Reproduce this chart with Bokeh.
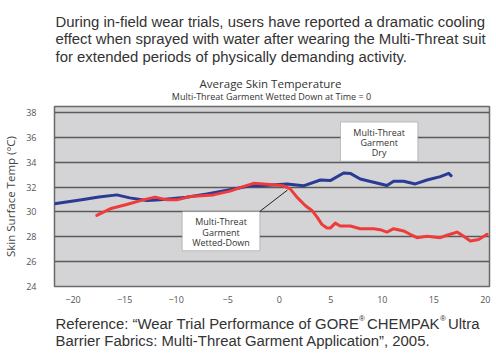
from bokeh.plotting import figure
from bokeh.layouts import column
from bokeh.models import Range1d, Label, BoxAnnotation, FixedTicker, ColumnDataSource
from bokeh.embed import file_html
from bokeh.resources import INLINE

# ---- data ----
dry_t = [-21.8, -19.0, -17.5, -15.75, -14.5, -12.85, -11.55, -9.0, -7.0, -4.4, -2.8, -1.85,
         0.75, 2.35, 4.0, 4.95, 6.25, 6.9, 7.86, 9.16, 10.45, 11.1, 12.07, 13.2, 14.34,
         15.63, 16.44, 16.67]
dry_temp = [30.65, 31.0, 31.2, 31.37, 31.13, 30.92, 30.97, 31.18, 31.45, 31.85, 32.1, 32.1,
            32.25, 32.1, 32.57, 32.52, 33.13, 33.1, 32.65, 32.38, 32.12, 32.47, 32.47, 32.25,
            32.57, 32.84, 33.1, 32.92]

wet_t = [-17.7, -16.4, -14.8, -13.2, -12.04, -10.9, -9.93, -8.64, -6.4, -4.76, -3.8, -2.5,
         -0.87, 0.42, 1.07, 1.72, 2.52, 3.17, 3.66, 4.14, 4.63, 4.95, 5.44, 5.92, 6.9, 7.86,
         9.16, 9.8, 10.45, 11.1, 12.07, 12.7, 13.37, 14.34, 15.63, 16.28, 17.25, 17.9, 18.54,
         19.35, 20.17]
wet_temp = [29.72, 30.25, 30.6, 30.97, 31.19, 30.97, 30.97, 31.24, 31.37, 31.67, 31.95, 32.3,
            32.2, 32.1, 31.85, 31.19, 30.52, 30.12, 29.6, 29.0, 28.7, 28.7, 29.1, 28.87, 28.87,
            28.65, 28.65, 28.57, 28.38, 28.65, 28.47, 28.2, 27.93, 28.04, 27.93, 28.12, 28.38,
            28.04, 27.66, 27.78, 28.2]

y_ticks = [24, 26, 28, 30, 32, 34, 36, 38]
x_ticks = [-20, -15, -10, -5, 0, 5, 10, 15, 20]

title_text = "Average Skin Temperature"
subtitle_text = "Multi-Threat Garment Wetted Down at Time = 0"
y_label = "Skin Surface Temp (\u00b0C)"
intro_lines = [
    "During in-field wear trials, users have reported a dramatic cooling",
    "effect when sprayed with water after wearing the Multi-Threat suit",
    "for extended periods of physically demanding activity.",
]
ref_line1_parts = ["Reference: \u201cWear Trial Performance of GORE", "\u00ae", " CHEMPAK",
                   "\u00ae", " Ultra"]
ref_line2 = "Barrier Fabrics: Multi-Threat Garment Application\u201d, 2005."
wet_box_lines = ["Multi-Threat", "Garment", "Wetted-Down"]
dry_box_lines = ["Multi-Threat", "Garment", "Dry"]

# ---- layout (page pixels) ----
W = 496
TOP_H = 104
MAIN_H = 201
BOT_H = 359 - TOP_H - MAIN_H
FL, FT, FR, FB = 54, 106, 489, 287
X0, X1 = -21.8, 20.4
Y0, Y1 = 24.0, 38.48
TXT = "#333333"


def dx(px):
    return X0 + (px - FL) * (X1 - X0) / (FR - FL)


def dy(py):
    return Y0 + (FB - py) * (Y1 - Y0) / (FB - FT)


def text_fig(h):
    # the column aligns this frame with the chart frame, so x data == page px
    f = figure(width=W, height=h, output_backend="svg", toolbar_location=None,
               x_range=Range1d(FL, FR), y_range=Range1d(h, 0),
               x_axis_location=None, y_axis_location=None,
               min_border_left=FL, min_border_right=W - FR,
               min_border_top=0, min_border_bottom=0)
    f.grid.visible = False
    f.outline_line_color = None
    f.background_fill_color = "white"
    f.border_fill_color = "white"
    return f


# ---- top text ----
top = text_fig(TOP_H)
for s, yy in zip(intro_lines, [21, 38.7, 56.3]):
    top.add_layout(Label(x=55, y=yy, text=s, text_align="left", text_baseline="alphabetic",
                         text_font="Liberation Sans", text_font_size="14.9px", text_color=TXT))
top.add_layout(Label(x=270, y=82.7, text=title_text, text_align="center",
                     text_baseline="alphabetic", text_font="Open Sans",
                     text_font_size="11.5px", text_color=TXT))
top.add_layout(Label(x=271, y=96.3, text=subtitle_text, text_align="center",
                     text_baseline="alphabetic", text_font="Open Sans",
                     text_font_size="9px", text_color=TXT))

# ---- main chart ----
p = figure(width=W, height=MAIN_H, output_backend="svg", toolbar_location=None,
           x_range=Range1d(X0, X1), y_range=Range1d(Y0, Y1),
           min_border_left=FL, min_border_top=FT - TOP_H, min_border_right=W - FR,
           min_border_bottom=TOP_H + MAIN_H - FB)
p.border_fill_color = "#ffffff"
p.outline_line_color = "#6a6a6a"
p.outline_line_width = 1.5
p.background_fill_color = "#d4d4d6"

p.xgrid.visible = False
p.ygrid.ticker = FixedTicker(ticks=y_ticks)
p.ygrid.grid_line_color = "#5a5a5a"
p.ygrid.grid_line_width = 1.4

for ax in (p.xaxis, p.yaxis):
    ax.axis_line_color = None
    ax.major_tick_line_color = None
    ax.minor_tick_line_color = None
    ax.major_label_text_font = "Open Sans"
    ax.major_label_text_font_size = "9px"
    ax.major_label_text_color = "#555555"
p.xaxis.ticker = FixedTicker(ticks=x_ticks)
p.yaxis.ticker = FixedTicker(ticks=y_ticks)
p.xaxis.major_label_standoff = 3
p.yaxis.major_label_standoff = 12
p.yaxis.axis_label = y_label
p.yaxis.axis_label_text_font = "Open Sans"
p.yaxis.axis_label_text_font_style = "normal"
p.yaxis.axis_label_text_font_size = "11.5px"
p.yaxis.axis_label_text_color = "#444444"
p.yaxis.axis_label_standoff = 5

dry_src = ColumnDataSource(dict(t=dry_t, temp=dry_temp))
wet_src = ColumnDataSource(dict(t=wet_t, temp=wet_temp))
p.line("t", "temp", source=dry_src, line_color="#2b3a93", line_width=3, line_join="round",
       line_cap="round")
p.line("t", "temp", source=wet_src, line_color="#ee3b3b", line_width=3, line_join="round",
       line_cap="round")

p.segment(x0=[dx(259)], y0=[dy(211.7)], x1=[dx(287)], y1=[dy(190)],
          line_color="#222222", line_width=1)

for (l, r, t, b) in [(181.7, 259.3, 211.7, 251), (340, 417.3, 121.7, 161)]:
    p.add_layout(BoxAnnotation(left=dx(l), right=dx(r), top=dy(t), bottom=dy(b),
                               fill_color="white", fill_alpha=1.0,
                               line_color="#555555", line_width=1, level="overlay"))

for lines, cx, ys in [(wet_box_lines, 220.5, [221.7, 232.3, 242.7]),
                      (dry_box_lines, 378.7, [131.7, 142.3, 152.7])]:
    for s, yy in zip(lines, ys):
        p.add_layout(Label(x=dx(cx), y=dy(yy), text=s, text_align="center",
                           text_baseline="middle", text_font="Open Sans",
                           text_font_size="9px", text_color=TXT, level="overlay"))

# ---- bottom text ----
bot = text_fig(BOT_H)
off = TOP_H + MAIN_H
seg_x = [55, 358.5, 366.5, 439.5, 447.5]
seg_size = ["14.9px", "8px", "14.9px", "8px", "14.9px"]
seg_dy = [0, -5, 0, -5, 0]
for s, xx, fs, d in zip(ref_line1_parts, seg_x, seg_size, seg_dy):
    bot.add_layout(Label(x=xx, y=323.3 - off + d, text=s, text_align="left",
                         text_baseline="alphabetic", text_font="Liberation Sans",
                         text_font_size=fs, text_color=TXT))
bot.add_layout(Label(x=55, y=340 - off, text=ref_line2, text_align="left",
                     text_baseline="alphabetic", text_font="Liberation Sans",
                     text_font_size="14.9px", text_color=TXT))

layout = column(top, p, bot, spacing=0)
open("out.html", "w").write(file_html(layout, INLINE))
